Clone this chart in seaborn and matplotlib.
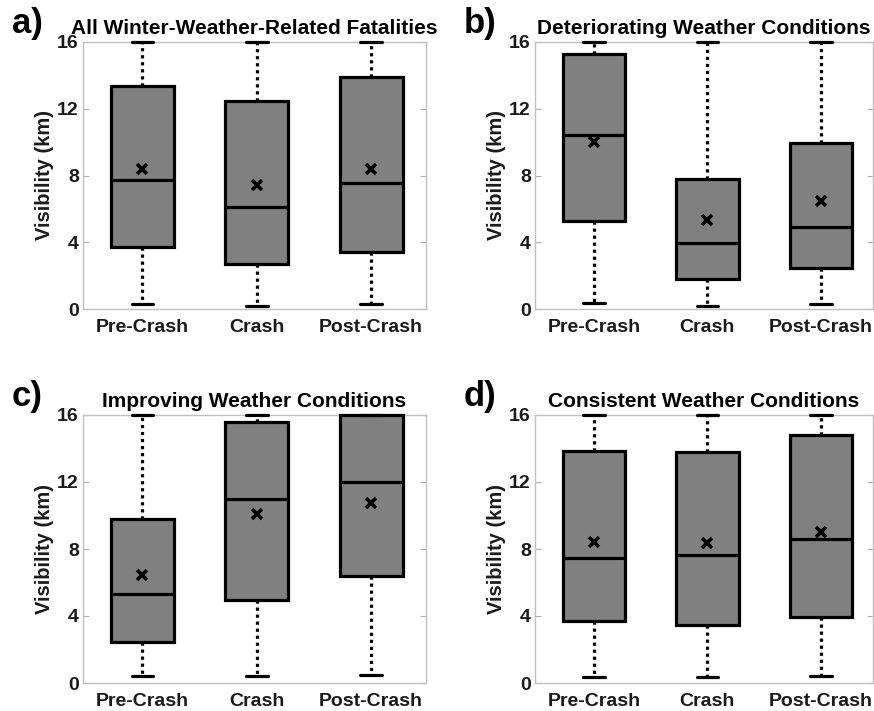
import numpy as np
import pandas as pd
import matplotlib
matplotlib.use("Agg")
import matplotlib.pyplot as plt
import seaborn as sns

# ---------------- data (km) ----------------
periods = ["Pre-Crash", "Crash", "Post-Crash"]
panel_titles = ["All Winter-Weather-Related Fatalities",
                "Deteriorating Weather Conditions",
                "Improving Weather Conditions",
                "Consistent Weather Conditions"]
panel_tags = ["a)", "b)", "c)", "d)"]

# five-number summaries per period: [min, q1, median, q3, max]
all_summary = [[0.32, 3.73, 7.72, 13.35, 16.0],
               [0.18, 2.69, 6.09, 12.45, 16.0],
               [0.32, 3.43, 7.56, 13.90, 16.0]]
det_summary = [[0.36, 5.29, 10.40, 15.27, 16.0],
               [0.18, 1.82, 3.95, 7.82, 16.0],
               [0.30, 2.47, 4.91, 9.96, 16.0]]
imp_summary = [[0.40, 2.47, 5.33, 9.78, 16.0],
               [0.44, 4.97, 10.97, 15.56, 16.0],
               [0.50, 6.40, 12.00, 16.0, 16.0]]
con_summary = [[0.36, 3.68, 7.46, 13.86, 16.0],
               [0.36, 3.48, 7.62, 13.82, 16.0],
               [0.44, 3.94, 8.59, 14.81, 16.0]]

all_means = [8.36, 7.46, 8.38]
det_means = [10.0, 5.35, 6.45]
imp_means = [6.42, 10.10, 10.77]
con_means = [8.39, 8.33, 9.01]

summaries = [all_summary, det_summary, imp_summary, con_summary]
means = [all_means, det_means, imp_means, con_means]
yticks = [0, 4, 8, 12, 16]

# ---------------- style ----------------
sns.set_theme(style="white")
plt.rcParams["font.family"] = ["Liberation Sans", "DejaVu Sans"]
plt.rcParams["font.weight"] = "bold"
txt = "#1a1a1a"

fig = plt.figure(figsize=(8.74, 7.11), dpi=100)
W, H = 874.0, 711.0
rects = [(83, 42, 426, 309), (535, 42, 873, 309),
         (83, 415, 426, 683), (535, 415, 873, 683)]

for i, (l, t, r, b) in enumerate(rects):
    ax = fig.add_axes([l / W, 1 - b / H, (r - l) / W, (b - t) / H])
    df = pd.DataFrame([(p, v) for p, row in zip(periods, summaries[i]) for v in row],
                      columns=["period", "value"])
    sns.boxplot(data=df, x="period", y="value", order=periods, whis=(0, 100),
                width=0.55, color="#808080", saturation=1, linecolor="black",
                linewidth=2.3, showfliers=False, capwidths=0.19,
                whiskerprops=dict(linestyle=(0, (1, 1.2))), ax=ax)
    sns.pointplot(x=periods, y=means[i], order=periods, linestyle="none",
                  marker="x", color="black", markersize=6.5, markeredgewidth=2.6,
                  errorbar=None, ax=ax)
    for art in list(ax.lines) + list(ax.patches):
        art.set_clip_on(False)
        art.set_zorder(art.get_zorder() + 3)
    ax.set_xlim(-0.52, 2.48 if i % 2 == 0 else 2.46)
    ax.set_ylim(0, 16)
    ax.set_yticks(yticks)
    ax.set_yticklabels([str(v) for v in yticks], fontsize=14, fontweight="bold", color=txt)
    ax.set_xticks(range(len(periods)))
    ax.set_xticklabels(periods, fontsize=14, fontweight="bold", color=txt)
    ax.tick_params(axis="y", direction="in", length=4, width=0.8, color="#b0b0b0",
                   pad=3, right=True, left=True)
    ax.tick_params(axis="x", length=0, pad=7)
    ax.set_xlabel("")
    ax.set_ylabel("Visibility (km)", fontsize=14.5, fontweight="bold", color=txt, labelpad=2)
    for sp in ax.spines.values():
        sp.set_color("#c0c0c0")
        sp.set_linewidth(1.0)
    ax.set_title(panel_titles[i], fontsize=15, fontweight="bold", color="black", pad=6)
    fig.text((l - 71) / W, 1 - (t - 9) / H, panel_tags[i], fontsize=25,
             fontweight="bold", color="black", ha="left", va="baseline")

fig.savefig("out.png", dpi=100)
